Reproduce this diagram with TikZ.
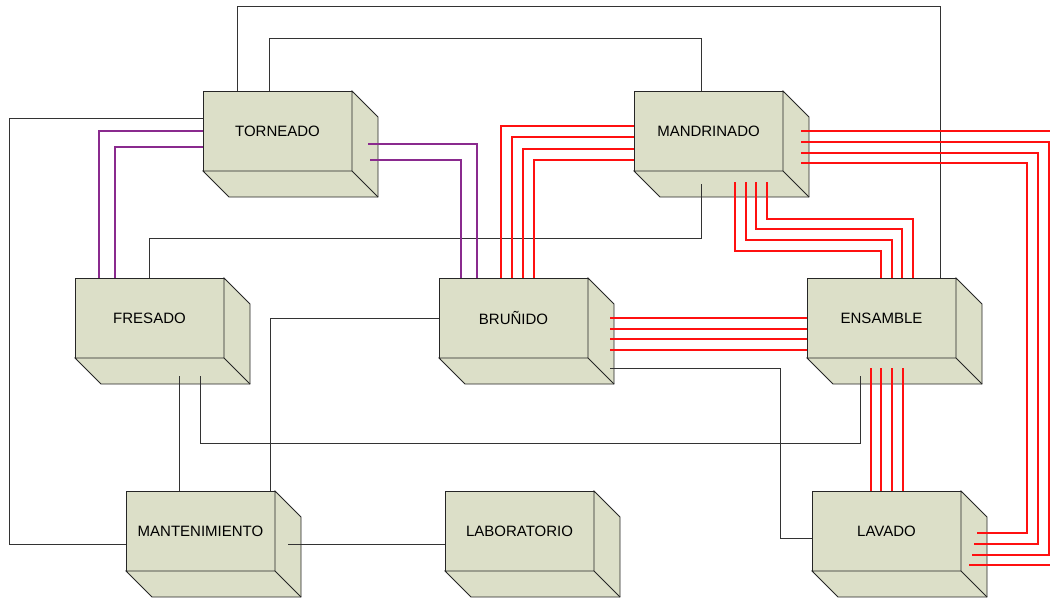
\documentclass[tikz,border=0pt]{standalone}
\usepackage{fontspec}
\setmainfont{Liberation Sans}
\usetikzlibrary{calc}
\definecolor{boxfill}{HTML}{DCDFC8}
\definecolor{pur}{HTML}{8A2A8E}
\definecolor{lnred}{HTML}{FF1010}
\tikzset{
  cubeface/.style={draw=black!85, fill=boxfill, line width=0.8pt, minimum width=149pt,
    minimum height=80pt, inner sep=0pt, outer sep=0pt, font=\fontsize{15}{18}\selectfont},
  cubeside/.style={draw=black!85, fill=boxfill, line width=0.8pt, line join=miter},
  blk/.style={draw=black!80, line width=0.8pt},
  redl/.style={draw=lnred, line width=1.05pt},
  purl/.style={draw=pur, line width=1.05pt},
}
\newcommand\mybox[4]{%
  \node[cubeface, anchor=north west] (#1) at (#2,#3) {#4};
  \filldraw[cubeside] (#1.north east) -- ++(26,26) -- ++(0,80) -- ++(-149,0) -- (#1.south west) -- (#1.south east) -- cycle;
  \draw[cubeside] (#1.south east) -- ++(26,26);
}
\begin{document}
\begin{tikzpicture}[x=1pt,y=-1pt]
\useasboundingbox (0,0) rectangle (1050,598);
\clip (0,0) rectangle (1050,598);
\fill[white] (0,0) rectangle (1050,598);

\mybox{tor}{203}{91}{TORNEADO}
\mybox{man}{634}{91}{MANDRINADO}
\mybox{fre}{75}{278}{FRESADO}
\mybox{bru}{439}{278}{BRUÑIDO}
\mybox{ens}{807}{278}{ENSAMBLE}
\mybox{mnt}{126}{491}{MANTENIMIENTO}
\mybox{lab}{445}{491}{LABORATORIO}
\mybox{lav}{812}{491}{LAVADO}

% black connectors
\draw[blk] ($(tor.north west)+(34,0)$) -- ++(0,-85) -| ($(ens.north west)+(133,0)$);
\draw[blk] ($(tor.north west)+(66,0)$) -- ++(0,-53) -| ($(man.north west)+(67,0)$);
\draw[blk] ($(tor.north west)+(0,27)$) -- ++(-194,0) |- ($(mnt.north west)+(0,53)$);
\draw[blk] ($(man.north west)+(67,93)$) -- ++(0,54) -| ($(fre.north west)+(74,0)$);
\draw[blk] ($(bru.north west)+(171,90)$) -- ++(170,0) |- ($(lav.north west)+(0,47)$);
\draw[blk] ($(bru.north west)+(0,40)$) -| ($(mnt.north west)+(144,0)$);
\draw[blk] ($(fre.north west)+(104,98)$) -- ($(mnt.north west)+(53,0)$);
\draw[blk] ($(fre.north west)+(125,98)$) -- ++(0,67) -| ($(ens.north west)+(53,98)$);
\draw[blk] ($(mnt.north west)+(162,53)$) -- ($(lab.north west)+(0,53)$);

% purple connectors
\draw[purl] ($(tor.north west)+(0,40)$) -| ($(fre.north west)+(24,0)$);
\draw[purl] ($(tor.north west)+(0,56)$) -| ($(fre.north west)+(40,0)$);
\draw[purl] ($(tor.north west)+(165,53)$) -| ($(bru.north west)+(38,0)$);
\draw[purl] ($(tor.north west)+(167,69)$) -| ($(bru.north west)+(22,0)$);

% red connectors MANDRINADO - BRUÑIDO
\draw[redl] ($(man.north west)+(0,35)$) -| ($(bru.north west)+(62,0)$);
\draw[redl] ($(man.north west)+(0,46)$) -| ($(bru.north west)+(73,0)$);
\draw[redl] ($(man.north west)+(0,58)$) -| ($(bru.north west)+(84,0)$);
\draw[redl] ($(man.north west)+(0,69)$) -| ($(bru.north west)+(95,0)$);

% red connectors MANDRINADO - ENSAMBLE
\draw[redl] ($(man.north west)+(101,91)$) -- ++(0,69) -| ($(ens.north west)+(74,0)$);
\draw[redl] ($(man.north west)+(112,91)$) -- ++(0,58) -| ($(ens.north west)+(85,0)$);
\draw[redl] ($(man.north west)+(122,91)$) -- ++(0,47) -| ($(ens.north west)+(95,0)$);
\draw[redl] ($(man.north west)+(133,91)$) -- ++(0,37) -| ($(ens.north west)+(106,0)$);

% red connectors MANDRINADO - LAVADO
\draw[redl] ($(man.north west)+(167,40)$) -- ++(259,0) |- ($(lav.north west)+(157,74)$);
\draw[redl] ($(man.north west)+(167,51)$) -- ++(248,0) |- ($(lav.north west)+(160,64)$);
\draw[redl] ($(man.north west)+(167,62)$) -- ++(237,0) |- ($(lav.north west)+(162,53)$);
\draw[redl] ($(man.north west)+(167,72)$) -- ++(226,0) |- ($(lav.north west)+(165,42)$);

% red connectors BRUÑIDO - ENSAMBLE
\draw[redl] ($(bru.north west)+(171,40)$) -- ($(ens.north west)+(0,40)$);
\draw[redl] ($(bru.north west)+(171,51)$) -- ($(ens.north west)+(0,51)$);
\draw[redl] ($(bru.north west)+(171,61)$) -- ($(ens.north west)+(0,61)$);
\draw[redl] ($(bru.north west)+(171,72)$) -- ($(ens.north west)+(0,72)$);

% red connectors ENSAMBLE - LAVADO
\draw[redl] ($(ens.north west)+(64,90)$) -- ($(lav.north west)+(59,0)$);
\draw[redl] ($(ens.north west)+(74,90)$) -- ($(lav.north west)+(69,0)$);
\draw[redl] ($(ens.north west)+(85,90)$) -- ($(lav.north west)+(80,0)$);
\draw[redl] ($(ens.north west)+(96,90)$) -- ($(lav.north west)+(91,0)$);
\end{tikzpicture}
\end{document}
